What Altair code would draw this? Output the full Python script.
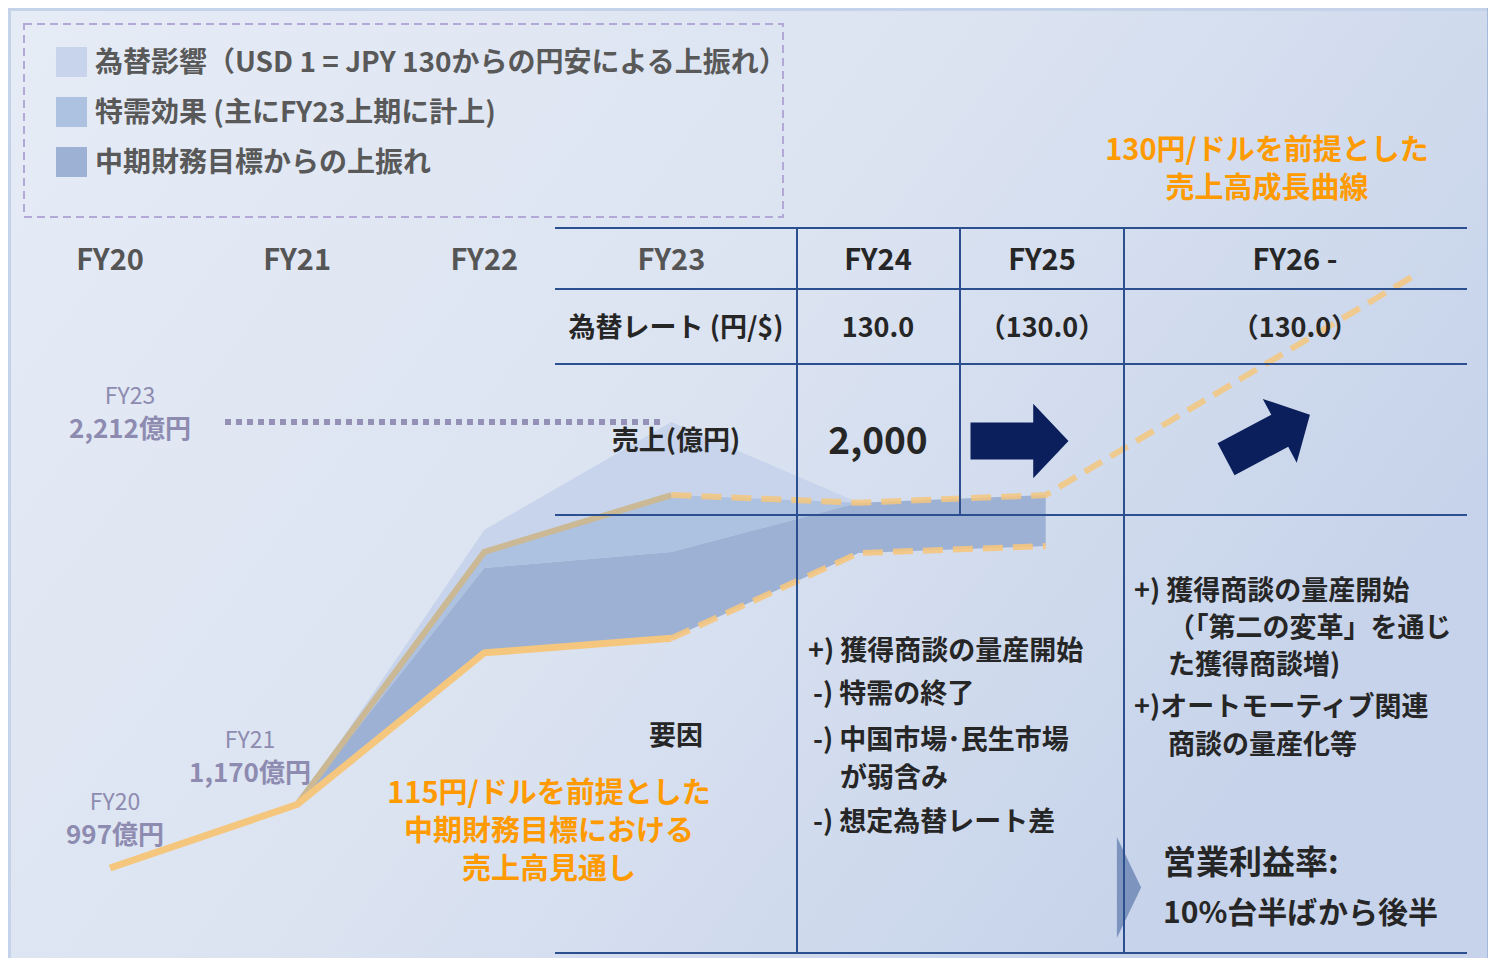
import altair as alt
import pandas as pd

# ---------------- data (売上高, 億円) ----------------
fy_labels = ["FY20", "FY21", "FY22", "FY23"]
fy_index = [0, 1, 2, 3, 4, 5]
plan_115 = [997, 1170, 1583, 1623, 1855, 1874]        # 115円/ドル前提 中期財務目標
curve_index = [1, 2, 3, 4, 5, 7]
curve_130 = [1170, 1858, 2013, 1992, 2013, 2620]      # 130円/ドル前提 成長曲線
area_index = [1, 2, 3, 4, 5]
upside_top = [1170, 1814, 1858, 1992, 2013]           # 中期財務目標からの上振れ (上端)
special_index = [1, 2, 3, 4]
fx_top = [1170, 1918, 2212, 1992]                     # 為替影響 (上端)
fy23_actual = 2212
legend_labels = ["為替影響（USD 1 = JPY 130からの円安による上振れ）",
                 "特需効果 (主にFY23上期に計上)",
                 "中期財務目標からの上振れ"]
head_labels = ["FY24", "FY25", "FY26 -"]
rate_labels = ["為替レート (円/$)", "130.0", "（130.0）", "（130.0）"]
note_115 = ["115円/ドルを前提とした", "中期財務目標における", "売上高見通し"]
note_130 = ["130円/ドルを前提とした", "売上高成長曲線"]
factors_fy24 = ["+) 獲得商談の量産開始", "-) 特需の終了", "-) 中国市場･民生市場",
                "が弱含み", "-) 想定為替レート差"]
factors_fy26 = ["+) 獲得商談の量産開始", "（「第二の変革」を通じ", "た獲得商談増)",
                "+)オートモーティブ関連", "商談の量産化等"]

# ---------------- styling ----------------
W, H = 1480, 950
FONT = "Noto Sans CJK JP"
DARK = "#262626"
GREY = "#555555"
PURP = "#8e8bb0"
ORANGE = "#ff9a00"
LINE_OR = "#f5c77e"
NAVY = "#0b1f5c"
GRID = "#2c4f8f"
C_FX, C_SP, C_UP = "#c7d4eb", "#adc1e1", "#9db1d4"

xs = alt.Scale(domain=[-0.5451, 7.3635], nice=False, zero=False)
ys = alt.Scale(domain=[751.8, 3339.8], nice=False, zero=False)

one = pd.DataFrame({"d": [0]})


def P(v):
    return v - 8


def T(text, x, y, size=27, color=DARK, weight="bold", align="center"):
    return alt.Chart(one).mark_text(
        text=text, fontSize=size, color=color, fontWeight=weight,
        align=align, baseline="middle", font=FONT
    ).encode(x=alt.value(P(x)), y=alt.value(P(y + 2)))


def TM(lines, x, y_first, lh, size=28, color=DARK, weight="bold", align="left"):
    # multi-line text block, y_first = centre of first line
    return alt.Chart(one).mark_text(
        text=lines, fontSize=size, color=color, fontWeight=weight,
        align=align, baseline="top", lineHeight=lh, font=FONT
    ).encode(x=alt.value(P(x)), y=alt.value(P(y_first + 2 - 0.49 * size)))


def RECT(x1, y1, x2, y2, **kw):
    return alt.Chart(one).mark_rect(**kw).encode(
        x=alt.value(P(x1)), x2=alt.value(P(x2)),
        y=alt.value(P(y1)), y2=alt.value(P(y2)))


def HR(x1, x2, y, color=GRID, w=2):
    return alt.Chart(one).mark_rule(color=color, strokeWidth=w).encode(
        x=alt.value(P(x1)), x2=alt.value(P(x2)), y=alt.value(P(y)))


def VR(x, y1, y2, color=GRID, w=2):
    return alt.Chart(one).mark_rule(color=color, strokeWidth=w).encode(
        x=alt.value(P(x)), y=alt.value(P(y1)), y2=alt.value(P(y2)))


def SYM(path, x, y, size, color, angle=0):
    return alt.Chart(one).mark_point(
        shape=path, size=size, filled=True, color=color, opacity=1,
        strokeWidth=0, angle=angle
    ).encode(x=alt.value(P(x)), y=alt.value(P(y)))


layers = []

# background panel
layers.append(RECT(1487, 0, 1504, 980, color="#a6b9db"))
layers.append(RECT(11, 11, 1487, 980, color=alt.Gradient(
    gradient="linear",
    stops=[alt.GradientStop(color="#e6ecf6", offset=0),
           alt.GradientStop(color="#dbe3f1", offset=0.55),
           alt.GradientStop(color="#c6d3ea", offset=1)],
    x1=0, y1=0, x2=1, y2=0.5)))

# legend box
layers.append(RECT(24, 24, 783, 217, fill="transparent", stroke="#b3a9d6",
                   strokeWidth=2, strokeDash=[8, 5]))
for (yc, col, lab) in zip([62, 112, 162], [C_FX, C_SP, C_UP], legend_labels):
    layers.append(RECT(56, yc - 15, 87, yc + 15, color=col))
    layers.append(T(lab, 95, yc, size=28, color="#595959", align="left"))

# ---------------- areas ----------------
df_up = pd.DataFrame({"x": area_index, "lo": plan_115[1:6], "hi": upside_top})
df_sp = pd.DataFrame({"x": special_index, "lo": upside_top[:4], "hi": curve_130[:4]})
df_fx = pd.DataFrame({"x": special_index, "lo": curve_130[:4], "hi": fx_top})
for df, col in [(df_fx, C_FX), (df_sp, C_SP), (df_up, C_UP)]:
    layers.append(alt.Chart(df).mark_area(color=col, opacity=1, interpolate="linear").encode(
        x=alt.X("x:Q", scale=xs, axis=None),
        y=alt.Y("lo:Q", scale=ys, axis=None),
        y2="hi:Q"))

# ---------------- lines ----------------
df_plan_solid = pd.DataFrame({"x": fy_index[:4], "v": plan_115[:4]})
df_plan_dash = pd.DataFrame({"x": fy_index[3:], "v": plan_115[3:]})
df_curve_solid = pd.DataFrame({"x": curve_index[:3], "v": curve_130[:3]})
df_curve_dash = pd.DataFrame({"x": curve_index[2:], "v": curve_130[2:]})


def LINE(df, color, width, dash=None, opacity=1.0):
    kw = dict(color=color, strokeWidth=width, opacity=opacity, strokeJoin="miter")
    if dash:
        kw["strokeDash"] = dash
    return alt.Chart(df).mark_line(**kw).encode(
        x=alt.X("x:Q", scale=xs, axis=None),
        y=alt.Y("v:Q", scale=ys, axis=None),
        order="x:Q")


layers.append(LINE(df_curve_solid, "#cbb995", 6))
layers.append(LINE(df_plan_solid, LINE_OR, 7))
layers.append(LINE(df_plan_dash, LINE_OR, 6, dash=[20, 10], opacity=0.9))
layers.append(LINE(df_curve_dash, LINE_OR, 6, dash=[20, 10], opacity=0.85))

# FY23 actual reference (dotted)
layers.append(alt.Chart(pd.DataFrame({"v": [fy23_actual]})).mark_rule(
    color="#9590b6", strokeWidth=6, strokeDash=[6, 5]).encode(
    x=alt.value(P(225)), x2=alt.value(P(662)),
    y=alt.Y("v:Q", scale=ys, axis=None)))

# ---------------- table ----------------
for yy in [228, 289, 364, 515, 953]:
    layers.append(HR(555, 1467, yy))
layers.append(VR(797, 228, 953))
layers.append(VR(960, 228, 515))
layers.append(SYM("M -0.24 -1 L 0.24 0 L -0.24 1 Z", 1129, 887.5, 10201, "#7d94bf"))
layers.append(VR(1124, 228, 953))

ARROW = "M -1 -0.38 L 0.28 -0.38 L 0.28 -0.76 L 1 0 L 0.28 0.76 L 0.28 0.38 L -1 0.38 Z"
layers.append(SYM(ARROW, 1019.5, 441, 9604, NAVY))
layers.append(SYM(ARROW, 1268, 437, 9025, NAVY, angle=332))

# header row
layers.append(alt.Chart(pd.DataFrame({"x": fy_index[:4], "t": fy_labels})).mark_text(
    fontSize=29, fontWeight="bold", color=GREY, font=FONT, baseline="middle").encode(
    x=alt.X("x:Q", scale=xs, axis=None), y=alt.value(P(261)), text="t:N"))
for lab, xx in zip(head_labels, [878, 1042, 1295]):
    layers.append(T(lab, xx, 259, size=29))
for lab, xx in zip(rate_labels, [676, 878, 1042, 1295]):
    layers.append(T(lab, xx, 327))
layers.append(T("売上(億円)", 676, 440))
layers.append(T("2,000", 878, 441, size=37))

# value labels
for (a, b, xx, ya) in [("FY23", "2,212億円", 130, 395), ("FY21", "1,170億円", 250, 739),
                       ("FY20", "997億円", 115, 801)]:
    layers.append(T(a, xx, ya, size=23, color=PURP, weight="normal"))
    layers.append(T(b, xx, ya + 33, size=26, color=PURP))

# orange notes
layers.append(TM(note_115, 549, 792, 38, size=29, color=ORANGE, align="center"))
layers.append(TM(note_130, 1267, 149, 38, size=29, color=ORANGE, align="center"))

layers.append(T("要因", 676, 735))

# factors
FS = 27
for s, xx, yy in zip(factors_fy24, [808, 813, 813, 840, 813], [650, 693, 739, 777, 821]):
    layers.append(T(s, xx, yy, size=FS, align="left"))
for s, xx, yy in zip(factors_fy26, [1134, 1168, 1168, 1134, 1168], [590, 627, 664, 706, 744]):
    layers.append(T(s, xx, yy, size=FS, align="left"))
layers.append(T("営業利益率:", 1163, 862, size=33, align="left"))
layers.append(T("10%台半ばから後半", 1163, 912, size=30, align="left"))

chart = alt.layer(*layers).properties(
    width=W, height=H, padding=0,
    autosize=alt.AutoSizeParams(type="none"),
    background="#c5d3ea"
).configure_view(stroke=None)

chart.save("out.html", embed_options={"renderer": "svg", "actions": False})
